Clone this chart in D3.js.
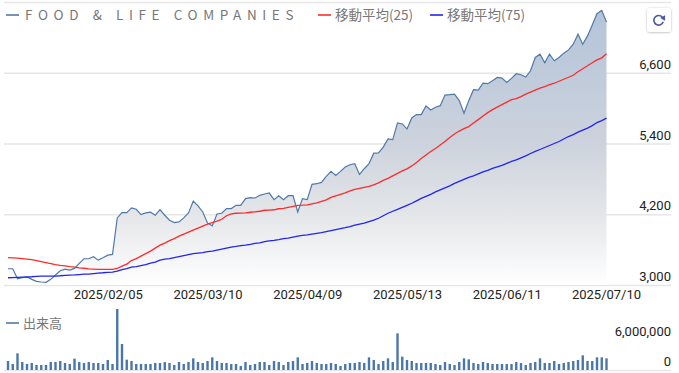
<!DOCTYPE html>
<html><head><meta charset="utf-8">
<script src="https://cdn.jsdelivr.net/npm/d3@7/dist/d3.min.js"></script>
<style>
html,body{margin:0;padding:0;background:#fff;overflow:hidden}
svg{display:block;font-family:"Noto Sans CJK JP","Noto Sans",sans-serif}
</style></head><body><div id="c"></div>
<script>
const seriesName = "FOOD & LIFE COMPANIES";
const ma25Name = "移動平均(25)";
const ma75Name = "移動平均(75)";
const volumeName = "出来高";
const priceTicks = [3000, 4200, 5400, 6600, 7800];
const priceTickLabels = ["3,000", "4,200", "5,400", "6,600", ""];
const volumeTicks = [0, 6000000];
const dateTickIndex = [21, 42, 63, 84, 105, 126];
const dateTickLabels = ["2025/02/05", "2025/03/10", "2025/04/09", "2025/05/13", "2025/06/11", "2025/07/10"];
const price = [3276,3276,3107,3124,3141,3096,3062,3051,3045,3096,3169,3242,3270,3254,3282,3366,3445,3445,3479,3422,3462,3507,3518,4138,4228,4228,4307,4284,4194,4222,4234,4183,4279,4183,4099,4059,4070,4138,4222,4425,4341,4239,4053,4003,4205,4217,4296,4296,4352,4352,4465,4482,4476,4521,4543,4560,4448,4515,4448,4515,4515,4239,4465,4448,4707,4718,4741,4842,4927,4859,4927,5000,5039,5056,4876,4972,5056,5236,5242,5338,5479,5467,5749,5732,5648,5834,5890,5890,6036,5969,6014,6042,6222,6228,6239,6127,5912,6127,6312,6307,6425,6414,6465,6521,6510,6436,6504,6583,6566,6526,6634,6859,6915,6769,6915,6803,6859,6932,6988,7084,7253,7084,7225,7411,7602,7659,7462];
const ma25 = [3465,3461,3456,3448,3439,3431,3414,3397,3380,3363,3346,3333,3324,3313,3304,3291,3284,3275,3270,3265,3265,3265,3265,3280,3321,3355,3414,3448,3490,3532,3575,3625,3676,3710,3752,3786,3828,3862,3896,3930,3963,3997,4031,4056,4082,4115,4175,4208,4217,4220,4225,4234,4242,4251,4268,4271,4276,4293,4301,4318,4335,4352,4355,4360,4377,4394,4420,4445,4487,4513,4538,4563,4597,4622,4639,4656,4673,4698,4732,4775,4808,4851,4893,4935,4969,5020,5079,5146,5205,5265,5315,5374,5434,5501,5560,5611,5653,5687,5746,5805,5865,5924,5974,6017,6059,6101,6143,6160,6194,6236,6270,6304,6338,6363,6397,6422,6456,6490,6524,6557,6617,6667,6718,6769,6819,6853,6921];
const ma75 = [3123,3125,3128,3132,3135,3140,3147,3152,3152,3152,3152,3157,3164,3169,3172,3177,3183,3186,3194,3203,3208,3215,3220,3237,3262,3279,3304,3313,3330,3346,3372,3389,3423,3439,3448,3465,3482,3499,3515,3532,3541,3549,3566,3575,3592,3608,3625,3642,3654,3668,3676,3688,3705,3715,3735,3749,3757,3769,3786,3794,3811,3828,3840,3850,3862,3874,3887,3904,3921,3938,3955,3972,3992,4014,4031,4048,4073,4099,4132,4175,4217,4251,4284,4318,4352,4386,4428,4470,4504,4538,4580,4614,4648,4682,4724,4758,4791,4825,4851,4884,4918,4944,4977,5003,5028,5062,5096,5121,5155,5189,5231,5265,5298,5332,5366,5400,5434,5476,5518,5552,5594,5628,5662,5704,5755,5789,5831];
const volume = [1800000,1200000,3330000,1600000,1200000,1400000,1000000,1000000,1000000,1600000,1600000,1800000,1400000,1200000,2270000,1600000,1400000,1600000,1400000,1400000,1200000,2000000,1200000,12200000,5200000,2070000,1800000,1200000,1200000,1200000,1200000,1400000,1400000,1600000,1400000,1000000,1600000,1200000,1600000,2330000,1600000,1400000,1800000,2530000,1800000,1400000,1400000,1200000,1200000,800000,1600000,1000000,1200000,1600000,1600000,1000000,1800000,1600000,1000000,1600000,1800000,2530000,1200000,1400000,1800000,1400000,1200000,1200000,1400000,1200000,800000,1200000,1400000,1400000,1600000,1400000,2530000,2000000,1200000,1800000,2330000,1600000,7330000,2670000,2000000,1800000,1400000,1400000,1400000,1400000,1200000,1000000,1600000,1200000,1000000,1600000,2330000,2130000,1400000,1200000,1600000,1400000,1200000,1200000,1200000,1200000,1200000,1600000,1400000,1000000,1400000,1600000,2330000,1400000,1400000,1800000,1200000,1400000,1600000,1800000,2000000,2930000,1800000,1800000,2530000,2530000,2330000];

const W = 679, H = 373;
const svg = d3.select("#c").append("svg").attr("width", W).attr("height", H);
const x = d3.scaleLinear().domain([0, 126]).range([8, 606.5]);
const y = d3.scaleLinear().domain([3000, 7800]).range([285, 2]);
const yv = d3.scaleLinear().domain([0, 6000000]).range([370, 340]);
const gridColor = "#e6e6e6", textDark = "#222", legendGray = "#777";
const tickFont = "Roboto, 'Noto Sans', sans-serif";
const lineBlue = "#5079a8", red = "#ff2b2b", blue = "#2424f0";

const defs = svg.append("defs");
const grad = defs.append("linearGradient").attr("id", "g").attr("gradientUnits", "userSpaceOnUse")
  .attr("x1", 0).attr("x2", 0).attr("y1", 5).attr("y2", 285);
grad.append("stop").attr("offset", 0).attr("stop-color", "#b2c3d9");
grad.append("stop").attr("offset", 0.5).attr("stop-color", "#cdd3dd");
grad.append("stop").attr("offset", 0.75).attr("stop-color", "#e4e6e9");
grad.append("stop").attr("offset", 1).attr("stop-color", "#ffffff");

// price axis with grid
const yAxis = d3.axisRight(y).tickValues(priceTicks)
  .tickFormat((d, i) => priceTickLabels[i]).tickSize(667).tickPadding(0);
const gy = svg.append("g").attr("transform", "translate(4,0)").call(yAxis);
gy.select(".domain").remove();
gy.selectAll(".tick line").attr("stroke", gridColor).attr("stroke-width", 1.5);
gy.selectAll(".tick text").attr("x", 667).attr("y", -9).attr("dy", "0.35em")
  .attr("text-anchor", "end").attr("fill", textDark).attr("font-family", tickFont).style("font-size", "13px");

// area and lines
const idx = d3.range(price.length);
svg.append("path").datum(idx).attr("fill", "url(#g)")
  .attr("d", d3.area().x(i => x(i)).y0(y(3000)).y1(i => y(price[i])));
const ln = arr => d3.line().x((d, i) => x(i)).y(d => y(d))(arr);
svg.append("path").attr("d", ln(price)).attr("fill", "none").attr("stroke", lineBlue).attr("stroke-width", 1.2);
svg.append("path").attr("d", ln(ma75)).attr("fill", "none").attr("stroke", blue).attr("stroke-width", 1.3);
svg.append("path").attr("d", ln(ma25)).attr("fill", "none").attr("stroke", red).attr("stroke-width", 1.3);

// date axis
const xAxis = d3.axisBottom(x).tickValues(dateTickIndex)
  .tickFormat((d, i) => dateTickLabels[i]).tickSize(0).tickPadding(0);
const gx = svg.append("g").attr("transform", "translate(0,294.3)").call(xAxis);
gx.select(".domain").remove();
gx.selectAll(".tick text").attr("y", 0).attr("dy", "0.35em").attr("text-anchor", "middle")
  .attr("fill", textDark).attr("font-family", tickFont).style("font-size", "13px");
gx.selectAll(".tick").filter((d, i) => i === 5).select("text").attr("x", -0.5);

// volume
const vAxis = d3.axisRight(yv).tickValues(volumeTicks).tickFormat(d3.format(",")).tickSize(667).tickPadding(0);
const gv = svg.append("g").attr("transform", "translate(4,0)").call(vAxis);
gv.select(".domain").remove();
gv.selectAll(".tick line").attr("stroke", (d) => d === 0 ? gridColor : "none").attr("stroke-width", 1.5);
gv.selectAll(".tick text").attr("x", 667).attr("y", -9).attr("dy", "0.35em")
  .attr("text-anchor", "end").attr("fill", textDark).attr("font-family", tickFont).style("font-size", "13px");
svg.append("g").selectAll("rect").data(volume).join("rect")
  .attr("x", (d, i) => x(i) - 1.2).attr("width", 2.4)
  .attr("y", d => yv(d)).attr("height", d => yv(0) - yv(d)).attr("fill", "#4a77aa");

// legend
const legend = [
  { t: seriesName, c: lineBlue, x1: 6, tx: 25, y: 15, ls: "5.6px", fs: "13.5px" },
  { t: ma25Name, c: red, x1: 318, tx: 335, y: 15, ls: "0", fs: "13.5px" },
  { t: ma75Name, c: blue, x1: 430, tx: 447, y: 15, ls: "0", fs: "13.5px" },
  { t: volumeName, c: lineBlue, x1: 6, tx: 23, y: 323, ls: "0", fs: "13px" }
];
legend.forEach(l => {
  svg.append("line").attr("x1", l.x1).attr("x2", l.x1 + 13).attr("y1", l.y).attr("y2", l.y)
    .attr("stroke", l.c).attr("stroke-width", 1.6);
  svg.append("text").attr("x", l.tx).attr("y", l.y).attr("dy", "0.36em").attr("fill", legendGray)
    .style("font-size", l.fs).style("letter-spacing", l.ls).text(l.t);
});

// refresh button
const shadow = defs.append("filter").attr("id", "s").attr("x", "-30%").attr("y", "-30%").attr("width", "160%").attr("height", "160%");
shadow.append("feDropShadow").attr("dx", 0).attr("dy", 0.5).attr("stdDeviation", 1).attr("flood-color", "#000").attr("flood-opacity", 0.3);
const btn = svg.append("g").attr("transform", "translate(647,8)");
btn.append("rect").attr("width", 24).attr("height", 24).attr("rx", 3).attr("fill", "#fff").attr("filter", "url(#s)");
btn.append("path").attr("d", d3.arc()({ innerRadius: 4, outerRadius: 5.6, startAngle: 1.9, endAngle: 2 * Math.PI + 0.85 }))
  .attr("transform", "translate(11.7,12.3)").attr("fill", "#4c5a9c");
btn.append("path").attr("d", d3.symbol(d3.symbolTriangle, 14)()).attr("transform", "translate(16.4,10) rotate(150)").attr("fill", "#4c5a9c");
</script></body></html>
